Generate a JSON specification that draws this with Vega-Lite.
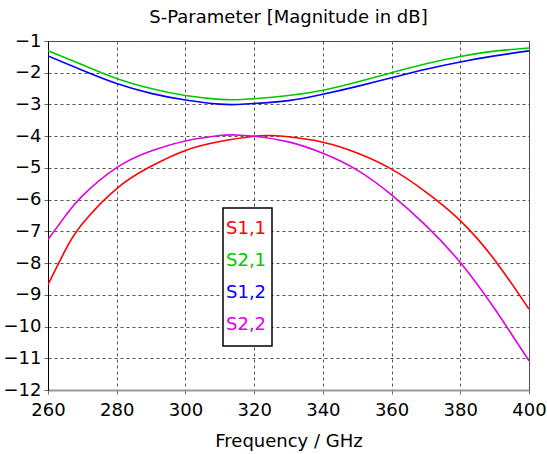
{
  "$schema": "https://vega.github.io/schema/vega-lite/v6.json",
  "autosize": {"type": "none"},
  "padding": {"left": 48, "top": 41, "right": 18, "bottom": 64},
  "width": 481,
  "height": 349,
  "background": "white",
  "title": {"text": "S-Parameter [Magnitude in dB]", "font": "DejaVu Sans", "fontSize": 18, "fontWeight": "normal", "color": "black", "anchor": "middle", "offset": 5},
  "config": {
    "view": {"stroke": "#444", "strokeWidth": 1},
    "axis": {"labelFont": "DejaVu Sans", "labelFontSize": 18, "labelColor": "black", "titleFont": "DejaVu Sans", "titleFontSize": 18, "titleFontWeight": "normal", "titleColor": "black", "gridDash": [3, 3], "gridColor": "#555", "gridOpacity": 1, "gridWidth": 1, "tickSize": 4, "tickColor": "#666"}
  },
  "data": {"values": [
    {"f": 260, "v": -8.68, "s": "S1,1"}, {"f": 265, "v": -7.6, "s": "S1,1"}, {"f": 270, "v": -6.76, "s": "S1,1"}, {"f": 280, "v": -5.65, "s": "S1,1"}, {"f": 290, "v": -4.95, "s": "S1,1"}, {"f": 300, "v": -4.45, "s": "S1,1"}, {"f": 310, "v": -4.17, "s": "S1,1"}, {"f": 320, "v": -4.0, "s": "S1,1"}, {"f": 325, "v": -3.98, "s": "S1,1"}, {"f": 330, "v": -4.02, "s": "S1,1"}, {"f": 340, "v": -4.19, "s": "S1,1"}, {"f": 350, "v": -4.53, "s": "S1,1"}, {"f": 360, "v": -5.04, "s": "S1,1"}, {"f": 370, "v": -5.76, "s": "S1,1"}, {"f": 380, "v": -6.66, "s": "S1,1"}, {"f": 390, "v": -7.9, "s": "S1,1"}, {"f": 400, "v": -9.45, "s": "S1,1"},
    {"f": 260, "v": -1.31, "s": "S2,1"}, {"f": 270, "v": -1.75, "s": "S2,1"}, {"f": 280, "v": -2.18, "s": "S2,1"}, {"f": 290, "v": -2.5, "s": "S2,1"}, {"f": 300, "v": -2.72, "s": "S2,1"}, {"f": 310, "v": -2.84, "s": "S2,1"}, {"f": 315, "v": -2.85, "s": "S2,1"}, {"f": 320, "v": -2.82, "s": "S2,1"}, {"f": 330, "v": -2.72, "s": "S2,1"}, {"f": 340, "v": -2.55, "s": "S2,1"}, {"f": 350, "v": -2.29, "s": "S2,1"}, {"f": 360, "v": -2.0, "s": "S2,1"}, {"f": 370, "v": -1.72, "s": "S2,1"}, {"f": 380, "v": -1.49, "s": "S2,1"}, {"f": 390, "v": -1.32, "s": "S2,1"}, {"f": 400, "v": -1.22, "s": "S2,1"},
    {"f": 260, "v": -1.47, "s": "S1,2"}, {"f": 270, "v": -1.92, "s": "S1,2"}, {"f": 280, "v": -2.34, "s": "S1,2"}, {"f": 290, "v": -2.65, "s": "S1,2"}, {"f": 300, "v": -2.86, "s": "S1,2"}, {"f": 310, "v": -2.99, "s": "S1,2"}, {"f": 315, "v": -3.0, "s": "S1,2"}, {"f": 320, "v": -2.97, "s": "S1,2"}, {"f": 330, "v": -2.88, "s": "S1,2"}, {"f": 340, "v": -2.68, "s": "S1,2"}, {"f": 350, "v": -2.43, "s": "S1,2"}, {"f": 360, "v": -2.16, "s": "S1,2"}, {"f": 370, "v": -1.89, "s": "S1,2"}, {"f": 380, "v": -1.66, "s": "S1,2"}, {"f": 390, "v": -1.47, "s": "S1,2"}, {"f": 400, "v": -1.31, "s": "S1,2"},
    {"f": 260, "v": -7.26, "s": "S2,2"}, {"f": 265, "v": -6.52, "s": "S2,2"}, {"f": 270, "v": -5.88, "s": "S2,2"}, {"f": 280, "v": -4.99, "s": "S2,2"}, {"f": 290, "v": -4.47, "s": "S2,2"}, {"f": 300, "v": -4.15, "s": "S2,2"}, {"f": 310, "v": -3.98, "s": "S2,2"}, {"f": 314, "v": -3.96, "s": "S2,2"}, {"f": 320, "v": -4.0, "s": "S2,2"}, {"f": 330, "v": -4.18, "s": "S2,2"}, {"f": 340, "v": -4.54, "s": "S2,2"}, {"f": 350, "v": -5.07, "s": "S2,2"}, {"f": 360, "v": -5.85, "s": "S2,2"}, {"f": 370, "v": -6.82, "s": "S2,2"}, {"f": 380, "v": -7.98, "s": "S2,2"}, {"f": 390, "v": -9.44, "s": "S2,2"}, {"f": 400, "v": -11.08, "s": "S2,2"}
  ]},
  "mark": {"type": "line", "interpolate": "natural", "strokeWidth": 1.6, "clip": true},
  "encoding": {
    "x": {"field": "f", "type": "quantitative", "scale": {"domain": [260, 400], "nice": false, "zero": false},
      "axis": {"title": "Frequency / GHz", "values": [260, 280, 300, 320, 340, 360, 380, 400], "labelFlush": false, "labelOverlap": false, "domainColor": "#999", "domainWidth": 2, "labelPadding": 7, "titlePadding": 13}},
    "y": {"field": "v", "type": "quantitative", "scale": {"domain": [-12, -1], "nice": false, "zero": false},
      "axis": {"title": null, "values": [-12, -11, -10, -9, -8, -7, -6, -5, -4, -3, -2, -1], "labelOverlap": false, "labelFlush": false, "domainColor": "black", "domainWidth": 1, "labelPadding": 3}},
    "color": {"field": "s", "type": "nominal",
      "scale": {"domain": ["S1,1", "S2,1", "S1,2", "S2,2"], "range": ["#ff0000", "#00c800", "#0000ff", "#e000e0"]},
      "legend": {"title": null, "orient": "none", "legendX": 175, "legendY": 167, "strokeColor": "black", "fillColor": "white", "padding": 5, "rowPadding": 0, "clipHeight": 32, "symbolType": "circle", "symbolSize": 0, "symbolStrokeWidth": 0, "symbolOpacity": 0, "labelOffset": -20, "labelAlign": "left", "labelFont": "DejaVu Sans", "labelFontSize": 18,
        "encode": {"legend": {"update": {"strokeWidth": {"value": 1.5}}}, "labels": {"update": {"fill": {"scale": "color", "field": "value"}}}}}
    }
  }
}
